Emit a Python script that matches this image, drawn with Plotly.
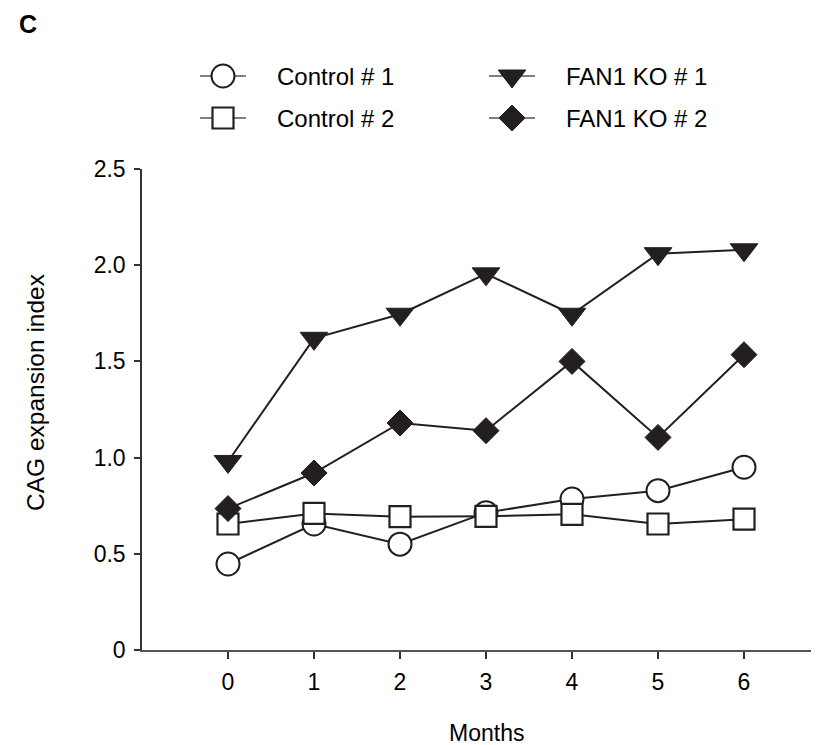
import plotly.graph_objects as go

months = [0, 1, 2, 3, 4, 5, 6]
control1 = [0.447, 0.655, 0.55, 0.714, 0.785, 0.828, 0.95]
control2 = [0.655, 0.71, 0.693, 0.695, 0.705, 0.655, 0.68]
ko1 = [0.98, 1.62, 1.745, 1.955, 1.745, 2.06, 2.08]
ko2 = [0.735, 0.92, 1.18, 1.14, 1.50, 1.105, 1.535]
names = ["Control # 1", "Control # 2", "FAN1 KO # 1", "FAN1 KO # 2"]
y_ticks = [0, 0.5, 1.0, 1.5, 2.0, 2.5]
y_tick_text = ["0", "0.5", "1.0", "1.5", "2.0", "2.5"]

OFF = 8  # page body margin
W, H = 819 - OFF, 745 - OFF
DARK = "#231f20"
FONT = "Liberation Sans, Arial, sans-serif"
FS = 23

styles = [
    dict(symbol="circle", size=23, color="white", line=dict(color=DARK, width=2)),
    dict(symbol="square", size=21, color="white", line=dict(color=DARK, width=2.2)),
    dict(symbol="triangle-down", size=24, color=DARK, line=dict(color=DARK, width=1)),
    dict(symbol="diamond", size=20, color=DARK, line=dict(color=DARK, width=1)),
]
series = [control1, control2, ko1, ko2]

# page-pixel layout of plot area
L, R, T, B = 142, 819, 169, 650
Lf, Rf, Tf, Bf = L - OFF, R - OFF, T - OFF, B - OFF

fig = go.Figure()
for nm, vals, st in zip(names, series, styles):
    fig.add_trace(go.Scatter(
        x=months, y=vals, mode="lines+markers", name=nm,
        line=dict(color=DARK, width=2), marker=st, cliponaxis=False,
        xaxis="x", yaxis="y", showlegend=False))

# manual legend on a page-pixel overlay axis
leg_pos = [(223, 275, 76), (223, 275, 118), (512, 564, 76), (512, 564, 118)]
for nm, st, (mx, tx, my) in zip(names, styles, leg_pos):
    fig.add_trace(go.Scatter(
        x=[mx - 23, mx + 23], y=[my, my], mode="lines",
        line=dict(color="#555555", width=1.5), xaxis="x2", yaxis="y2",
        showlegend=False, hoverinfo="skip"))
    fig.add_trace(go.Scatter(
        x=[mx], y=[my], mode="markers", marker=st, xaxis="x2", yaxis="y2",
        showlegend=False, hoverinfo="skip"))
    fig.add_annotation(x=tx, y=my, xref="x2", yref="y2", text=nm, showarrow=False,
                       xanchor="left", yanchor="middle",
                       font=dict(family=FONT, size=24, color="black"))

fig.add_annotation(x=17, y=24, xref="x2", yref="y2", text="<b>C</b>", showarrow=False,
                   xanchor="left", yanchor="middle",
                   font=dict(family=FONT, size=25, color="black"))
fig.add_annotation(x=35, y=393, xref="x2", yref="y2", text="CAG expansion index",
                   showarrow=False, textangle=-90, xanchor="center", yanchor="middle",
                   font=dict(family=FONT, size=24.5, color="black"))
fig.add_annotation(x=3, y=733, xref="x", yref="y2", text="Months",
                   showarrow=False, xanchor="center", yanchor="middle",
                   font=dict(family=FONT, size=FS, color="black"))

fig.update_layout(
    width=W, height=H, margin=dict(l=0, r=0, t=0, b=0),
    paper_bgcolor="white", plot_bgcolor="rgba(0,0,0,0)",
    font=dict(family=FONT, size=FS, color="black"),
    xaxis=dict(domain=[Lf / W, Rf / W], range=[-1, -1 + (R - L) / 86.0],
               tickvals=months, ticks="outside", ticklen=7, tickwidth=1.5,
               tickcolor="#333333", showline=True, linecolor="#555555", linewidth=2,
               showgrid=False, zeroline=False, automargin=False,
               ticklabelstandoff=3, tickfont=dict(family=FONT, size=FS)),
    yaxis=dict(domain=[(H - Bf) / H, (H - Tf) / H], range=[0, 2.5],
               tickvals=y_ticks, ticktext=y_tick_text, ticks="outside", ticklen=6,
               tickwidth=1.5, tickcolor="#333333", showline=True, linecolor="#333333",
               linewidth=1.5, showgrid=False, zeroline=False, automargin=False,
               ticklabelstandoff=4, tickfont=dict(family=FONT, size=FS)),
    xaxis2=dict(domain=[0, 1], range=[OFF, OFF + W], visible=False, fixedrange=True,
                anchor="y2"),
    yaxis2=dict(domain=[0, 1], range=[OFF + H, OFF], visible=False, fixedrange=True,
                anchor="x2"),
)

fig.write_html("out.html")
